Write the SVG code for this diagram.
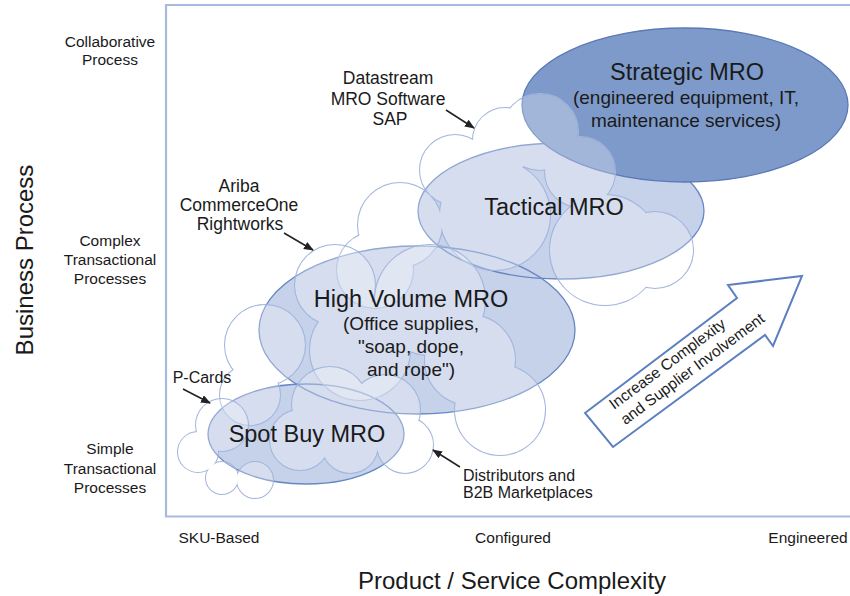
<svg xmlns="http://www.w3.org/2000/svg" xmlns:xlink="http://www.w3.org/1999/xlink" width="850" height="596" viewBox="0 0 850 596">
<style>
text{font-family:"Liberation Sans",Arial,sans-serif;fill:#1a1a1a}
.ax{font-size:15.5px;text-anchor:middle}
.ti{font-size:23.5px;text-anchor:middle}
.sub{font-size:19px;text-anchor:middle}
.note{font-size:17.5px;text-anchor:middle}
.ell{fill:#c6d1ea}
.ells{fill:none;stroke:#6787c3;stroke-width:1.3}
.cf{fill:#fff;opacity:0.28}
.co{fill:none;stroke:#a3b6dc;stroke-width:2}
.lead{stroke:#222;stroke-width:1.5;fill:none;marker-end:url(#ah)}
</style>
<defs>
<marker id="ah" markerUnits="userSpaceOnUse" markerWidth="10" markerHeight="8" refX="9" refY="4" orient="auto"><path d="M0,0 L10,4 L0,8 z" fill="#222"/></marker>
<g id="cT">
<circle cx="505" cy="140" r="32"/><circle cx="540" cy="132" r="38"/><circle cx="580" cy="172" r="35"/>
<circle cx="455" cy="170" r="35"/><circle cx="400" cy="225" r="42"/><circle cx="375" cy="270" r="38"/>
<circle cx="495" cy="215" r="55"/><circle cx="605" cy="250" r="55"/><circle cx="655" cy="250" r="38"/>
</g>
<g id="cM">
<circle cx="335" cy="285" r="40"/><circle cx="265" cy="345" r="40"/><circle cx="250" cy="395" r="30"/>
<circle cx="500" cy="410" r="45"/><circle cx="430" cy="300" r="55"/><circle cx="360" cy="350" r="50"/>
<circle cx="470" cy="360" r="45"/>
</g>
<g id="cS">
<circle cx="222" cy="425" r="26"/><circle cx="198" cy="452" r="20"/><circle cx="222" cy="478" r="16"/>
<circle cx="330" cy="405" r="38"/><circle cx="385" cy="410" r="35"/><circle cx="300" cy="440" r="30"/>
<circle cx="350" cy="445" r="28"/><circle cx="405" cy="445" r="28"/><circle cx="255" cy="480" r="18"/>
</g>
<mask id="mT" maskUnits="userSpaceOnUse" x="0" y="0" width="850" height="596"><rect width="850" height="596" fill="#fff"/><use xlink:href="#cT" fill="#000"/></mask>
<mask id="mM" maskUnits="userSpaceOnUse" x="0" y="0" width="850" height="596"><rect width="850" height="596" fill="#fff"/><use xlink:href="#cM" fill="#000"/></mask>
<mask id="mS" maskUnits="userSpaceOnUse" x="0" y="0" width="850" height="596"><rect width="850" height="596" fill="#fff"/><use xlink:href="#cS" fill="#000"/></mask>
</defs>

<g id="frame">
<path d="M860,5 H166 V516.5 H860" fill="none" stroke="#a9b9e0" stroke-width="2.2"/>
</g>

<g id="axis-labels">
<text class="ax" x="110" y="47">Collaborative</text>
<text class="ax" x="110" y="65">Process</text>
<text class="ax" x="110" y="246">Complex</text>
<text class="ax" x="110" y="265">Transactional</text>
<text class="ax" x="110" y="284">Processes</text>
<text class="ax" x="110" y="454">Simple</text>
<text class="ax" x="110" y="474">Transactional</text>
<text class="ax" x="110" y="493">Processes</text>
<text x="33" y="260" transform="rotate(-90 33 260)" style="font-size:24px;text-anchor:middle">Business Process</text>
<text class="ax" x="219" y="543">SKU-Based</text>
<text class="ax" x="513" y="543">Configured</text>
<text class="ax" x="808" y="543">Engineered</text>
<text x="512" y="589" style="font-size:24px;text-anchor:middle">Product / Service Complexity</text>
</g>

<g id="ellipses">
<ellipse class="ell" cx="306" cy="434" rx="98" ry="50"/>
<ellipse class="ell" cx="417" cy="330" rx="158" ry="84"/>
<ellipse class="ell" cx="561" cy="211" rx="143" ry="68"/>
<ellipse class="ells" cx="306" cy="434" rx="98" ry="50"/>
<ellipse class="ells" cx="417" cy="330" rx="158" ry="84"/>
<ellipse class="ells" cx="561" cy="211" rx="143" ry="68"/>
<ellipse cx="685" cy="105" rx="163" ry="77" fill="#7e9acb" stroke="#5b79b6" stroke-width="1.3"/>
</g>

<g id="clouds">
<use xlink:href="#cT" class="cf"/>
<use xlink:href="#cT" class="co" mask="url(#mT)"/>
<use xlink:href="#cM" class="cf"/>
<use xlink:href="#cM" class="co" mask="url(#mM)"/>
<use xlink:href="#cS" class="cf"/>
<use xlink:href="#cS" class="co" mask="url(#mS)"/>
</g>

<g id="node-strategic">
<text class="ti" x="687" y="80">Strategic MRO</text>
<text class="sub" x="686" y="104">(engineered equipment, IT,</text>
<text class="sub" x="686" y="127">maintenance services)</text>
</g>
<g id="node-tactical">
<text class="ti" x="554" y="215">Tactical MRO</text>
</g>
<g id="node-highvolume">
<text class="ti" x="411" y="307">High Volume MRO</text>
<text class="sub" x="411" y="330">(Office supplies,</text>
<text class="sub" x="411" y="353">"soap, dope,</text>
<text class="sub" x="411" y="376">and rope")</text>
</g>
<g id="node-spotbuy">
<text class="ti" x="307" y="442">Spot Buy MRO</text>
</g>

<g id="annotations">
<text class="note" x="388" y="84">Datastream</text>
<text class="note" x="388" y="105">MRO Software</text>
<text class="note" x="390" y="125">SAP</text>
<text class="note" x="239" y="192">Ariba</text>
<text class="note" x="239" y="211">CommerceOne</text>
<text class="note" x="240" y="230">Rightworks</text>
<text x="202" y="383" style="font-size:16px;text-anchor:middle">P-Cards</text>
<text x="463" y="481" style="font-size:16px">Distributors and</text>
<text x="463" y="498" style="font-size:16px">B2B Marketplaces</text>
</g>

<g id="connectors">
<line class="lead" x1="446" y1="110" x2="474" y2="128"/>
<line class="lead" x1="284" y1="233" x2="313" y2="250"/>
<line class="lead" x1="183" y1="389" x2="210" y2="403"/>
<line class="lead" x1="460" y1="467" x2="433" y2="450"/>
</g>

<g id="trend-arrow">
<polygon points="585,413 737,298 728,285 802,276 773,346 765,335 613,447" fill="#fff" stroke="#5b7fc0" stroke-width="2" stroke-linejoin="miter"/>
<g transform="translate(599,430) rotate(-36.7)">
<text x="24" y="-7" style="font-size:15.5px">Increase Complexity</text>
<text x="24" y="12" style="font-size:15.5px">and Supplier Involvement</text>
</g>
</g>
</svg>
